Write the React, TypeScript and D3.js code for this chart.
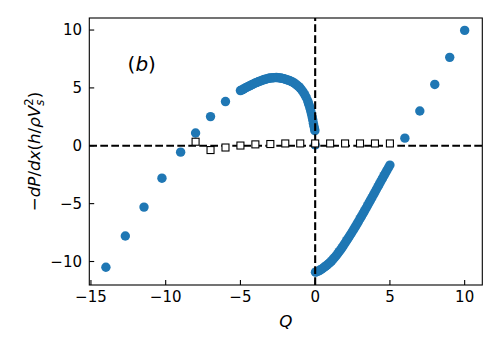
import * as d3 from "d3";

// sparse branches of the measured points (blue)
const outerQ = [-14.0, -12.7, -11.45, -10.25, -9.0, -8.0, -7.0, -6.0, 6.0, 7.0, 8.0, 9.0, 10.0];
const outerY = [-10.5, -7.8, -5.3, -2.8, -0.55, 1.1, 2.52, 3.82, 0.66, 3.0, 5.3, 7.64, 9.97];

// dense upper branch, Q in [-5, 0]
const upperQ = [-5.0, -4.9, -4.8, -4.7, -4.6, -4.5, -4.4, -4.3, -4.2, -4.1, -4.0, -3.9, -3.8, -3.7, -3.6,
  -3.5, -3.4, -3.3, -3.2, -3.1, -3.0, -2.9, -2.8, -2.7, -2.6, -2.5, -2.4, -2.3, -2.2, -2.1, -2.0,
  -1.9, -1.8, -1.7, -1.6, -1.5, -1.4, -1.3, -1.2, -1.1, -1.0, -0.9, -0.8, -0.7, -0.6, -0.5, -0.45,
  -0.4, -0.35, -0.3, -0.25, -0.2, -0.16, -0.12, -0.08, -0.04, -0.02];
const upperY = [4.77, 4.83, 4.9, 4.97, 5.04, 5.11, 5.17, 5.24, 5.3, 5.36, 5.42, 5.48, 5.53, 5.58, 5.63,
  5.68, 5.72, 5.76, 5.8, 5.83, 5.85, 5.87, 5.88, 5.89, 5.9, 5.89, 5.87, 5.85, 5.82, 5.79, 5.75,
  5.71, 5.67, 5.62, 5.56, 5.49, 5.42, 5.33, 5.22, 5.11, 4.98, 4.82, 4.64, 4.42, 4.18, 3.88, 3.7,
  3.5, 3.27, 3.02, 2.76, 2.48, 2.22, 1.94, 1.68, 1.45, 1.3];

// dense lower branch, Q in [0, 5]
const lowerQ = [0.02, 0.1, 0.2, 0.3, 0.4, 0.5, 0.6, 0.7, 0.8, 0.9, 1.0, 1.1, 1.2, 1.3, 1.4, 1.5, 1.6,
  1.7, 1.8, 1.9, 2.0, 2.1, 2.2, 2.3, 2.4, 2.5, 2.6, 2.7, 2.8, 2.9, 3.0, 3.1, 3.2, 3.3, 3.4, 3.5,
  3.6, 3.7, 3.8, 3.9, 4.0, 4.1, 4.2, 4.3, 4.4, 4.5, 4.6, 4.7, 4.8, 4.9, 5.0];
const lowerY = [-10.92, -10.88, -10.83, -10.76, -10.68, -10.6, -10.5, -10.4, -10.3, -10.19, -10.08,
  -9.95, -9.8, -9.65, -9.5, -9.33, -9.15, -8.98, -8.8, -8.6, -8.4, -8.2, -8.0, -7.8, -7.6, -7.39,
  -7.18, -6.97, -6.75, -6.53, -6.3, -6.08, -5.85, -5.63, -5.4, -5.17, -4.93, -4.7, -4.47, -4.23,
  -4.0, -3.76, -3.52, -3.29, -3.05, -2.82, -2.58, -2.35, -2.12, -1.9, -1.67];

const zeroDot = { q: 0, y: 0.08 };

// open squares
const squareQ = [-8, -7, -6, -5, -4, -3, -2, -1, 0, 1, 2, 3, 4, 5];
const squareY = [0.35, -0.37, -0.15, 0.02, 0.12, 0.15, 0.2, 0.2, 0.2, 0.2, 0.2, 0.2, 0.2, 0.2];

const xTicks = [-15, -10, -5, 0, 5, 10];
const yTicks = [-10, -5, 0, 5, 10];

const W = 500;
const H = 350;
const font = "DejaVu Sans, sans-serif";
const blue = "#1f77b4";

const fmt = (v: number) => (v < 0 ? "\u2212" + Math.abs(v) : String(v));

export default function App() {
  const x = d3.scaleLinear().domain([-15.11, 11.18]).range([89.3, 482.3]);
  const y = d3.scaleLinear().domain([-12.03, 11.04]).range([285, 18]);
  const [x0, x1] = x.range();
  const [y0, y1] = y.range();

  const dots: { q: number; v: number }[] = [];
  outerQ.forEach((q, i) => dots.push({ q, v: outerY[i] }));
  upperQ.forEach((q, i) => dots.push({ q, v: upperY[i] }));
  lowerQ.forEach((q, i) => dots.push({ q, v: lowerY[i] }));
  dots.push({ q: zeroDot.q, v: zeroDot.y });

  const sq = 7;

  return (
    <svg width={W} height={H} style={{ position: "absolute", left: 0, top: 0, background: "white" }}>
      {/* scatter */}
      <g fill={blue}>
        {dots.map((d, i) => (
          <circle key={i} cx={x(d.q)} cy={y(d.v)} r={4.7} />
        ))}
      </g>

      {/* dashed zero lines */}
      <g stroke="black" strokeWidth={2.1} strokeDasharray="7.7,3.3" fill="none">
        <line x1={x0} x2={x1} y1={y(0)} y2={y(0)} />
        <line x1={x(0)} x2={x(0)} y1={y0} y2={y1} />
      </g>

      {/* squares */}
      <g fill="white" stroke="black" strokeWidth={1.1}>
        {squareQ.map((q, i) => (
          <rect key={i} x={x(q) - sq / 2} y={y(squareY[i]) - sq / 2} width={sq} height={sq} />
        ))}
      </g>

      {/* frame */}
      <rect x={x0} y={y1} width={x1 - x0} height={y0 - y1} fill="none" stroke="black" strokeWidth={1.1} />

      {/* x ticks */}
      <g fontFamily={font} fontSize={15} textAnchor="middle">
        {xTicks.map((t) => (
          <g key={t}>
            <line x1={x(t)} x2={x(t)} y1={y0} y2={y0 - 4.9} stroke="black" strokeWidth={1.1} />
            <text x={x(t)} y={302}>{fmt(t)}</text>
          </g>
        ))}
      </g>

      {/* y ticks */}
      <g fontFamily={font} fontSize={15} textAnchor="end">
        {yTicks.map((t) => (
          <g key={t}>
            <line x1={x0} x2={x0 + 4.9} y1={y(t)} y2={y(t)} stroke="black" strokeWidth={1.1} />
            <text x={82} y={y(t)} dy="0.36em">{fmt(t)}</text>
          </g>
        ))}
      </g>

      {/* axis labels */}
      <text x={(x0 + x1) / 2} y={327} textAnchor="middle" fontFamily={font} fontSize={16.7} fontStyle="italic">
        Q
      </text>
      <text transform={`translate(39.5, ${(y0 + y1) / 2}) rotate(-90)`} textAnchor="middle" fontFamily={font} fontSize={16.7}>
        <tspan>{"\u2212"}</tspan>
        <tspan fontStyle="italic">dP</tspan>
        <tspan>/</tspan>
        <tspan fontStyle="italic">dx</tspan>
        <tspan>(</tspan>
        <tspan fontStyle="italic">h</tspan>
        <tspan>/</tspan>
        <tspan fontStyle="italic">ρV</tspan>
        <tspan fontStyle="italic" fontSize={11.7} dy={4}>s</tspan>
        <tspan fontSize={11.7} dx={-6.1} dy={-11}>2</tspan>
        <tspan dy={7}>)</tspan>
      </text>

      {/* panel tag */}
      <text x={x(-12.55)} y={y(6.5)} fontFamily={font} fontSize={20}>
        <tspan>(</tspan>
        <tspan fontStyle="italic">b</tspan>
        <tspan>)</tspan>
      </text>
    </svg>
  );
}
